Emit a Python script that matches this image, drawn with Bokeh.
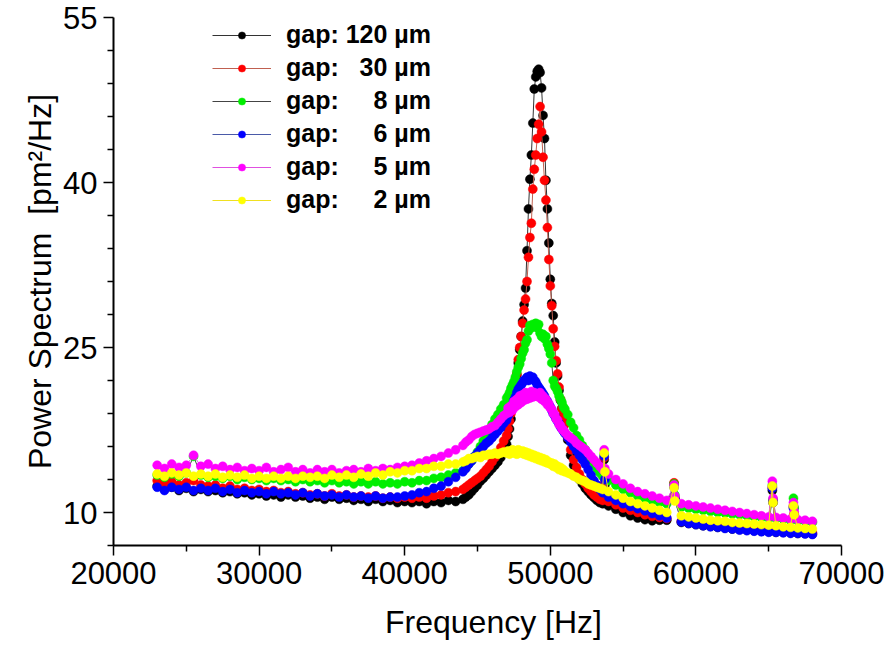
from bokeh.plotting import figure
from bokeh.models import FixedTicker, Legend, LegendItem, Range1d
from bokeh.embed import file_html
from bokeh.resources import INLINE

# ---------------- data ----------------
freq = [
    23000, 23500, 24000, 24500, 25000, 25500, 26000, 26500, 27000, 27500,
    28000, 28500, 29000, 29500, 30000, 30500, 31000, 31500, 32000, 32500,
    33000, 33500, 34000, 34500, 35000, 35500, 36000, 36500, 37000, 37500,
    38000, 38500, 39000, 39500, 40000, 40500, 41000, 41500, 42000, 42500,
    43000, 43500,
    44000, 44200, 44400, 44600, 44800, 45000, 45200, 45400, 45600, 45800,
    46000, 46200, 46400, 46600, 46800,
    47000, 47100, 47200, 47300, 47400, 47500, 47600, 47700, 47800, 47900,
    48000, 48100, 48200, 48300, 48400, 48500, 48600, 48700, 48800, 48900,
    49000, 49100, 49200, 49300, 49400, 49500, 49600, 49700, 49800, 49900,
    50000, 50100, 50200, 50300, 50400, 50500, 50600, 50700, 50800, 50900,
    51000,
    51200, 51400, 51600, 51800, 52000, 52200, 52400, 52600, 52800, 53000,
    53200, 53400, 53600,
    53700, 53750,
    54000, 54500, 55000, 55500, 56000, 56500, 57000, 57500, 58000, 58500,
    58550, 59000, 59500, 60000, 60500, 61000, 61500, 62000, 62500, 63000,
    63500, 64000, 64500, 65000, 65250, 65300, 65500, 66000, 66500, 66700,
    66750, 67000, 67500, 68000,
]

gap_120 = [
    12.4, 12.1, 12.3, 12.0, 12.2, 11.9, 12.1, 11.9, 12.0, 11.8,
    11.9, 11.7, 11.8, 11.6, 11.7, 11.5, 11.6, 11.4, 11.6, 11.4,
    11.5, 11.3, 11.4, 11.2, 11.4, 11.2, 11.3, 11.1, 11.2, 11.0,
    11.2, 11.0, 11.1, 10.9, 11.0, 10.9, 11.0, 10.8, 11.0, 10.9,
    11.1, 11.0,
    11.2, 11.4, 11.6, 11.9, 12.2, 12.5, 12.85, 13.1, 13.4, 13.7,
    14.0, 14.3, 14.6, 15.0, 15.5,
    16.2, 16.9, 17.6, 18.5, 19.5, 20.4, 21.4, 22.5, 23.6, 24.8,
    26.0, 27.4, 28.9, 30.4, 33.8, 37.6, 40.3, 42.5, 45.4, 48.5,
    49.6, 50.1, 50.3, 50.0, 48.6, 46.1, 44.0, 40.2, 37.6, 34.5,
    31.2, 29.0, 27.9, 25.5, 23.6, 22.4, 21.1, 20.2, 19.5, 18.8,
    18.1,
    16.6, 15.2, 14.3, 13.6, 13.0, 12.6, 12.2, 11.9, 11.6, 11.35,
    11.1, 10.9, 10.8,
    14.8, 12.5,
    10.6, 10.3, 10.0, 9.7, 9.5, 9.35, 9.25, 9.3, 9.3, 12.6,
    11.3, 9.1, 9.0, 8.9, 8.8, 8.75, 8.65, 8.6, 8.5, 8.45,
    8.4, 8.35, 8.3, 8.25, 12.0, 10.9, 8.2, 8.2, 8.15, 10.5,
    9.8, 8.1, 8.1, 8.05,
]

gap_30 = [
    12.9, 12.6, 12.8, 12.5, 12.7, 12.9, 12.5, 12.4, 12.5, 12.2,
    12.4, 12.1, 12.2, 12.0, 12.1, 11.9, 12.0, 11.8, 11.9, 11.7,
    11.8, 11.6, 11.7, 11.5, 11.7, 11.5, 11.6, 11.4, 11.5, 11.4,
    11.5, 11.3, 11.4, 11.3, 11.4, 11.3, 11.4, 11.3, 11.5, 11.6,
    11.8, 11.9,
    12.1, 12.3, 12.5, 12.7, 12.9, 13.1, 13.3, 13.6, 13.9, 14.2,
    14.6, 15.0, 15.4, 15.9, 16.5,
    17.0, 17.6, 18.3, 19.0, 19.8, 20.7, 21.6, 22.6, 23.9, 25.0,
    26.0, 27.2, 28.4, 29.4, 31.0, 33.2, 35.0, 36.3, 39.4, 41.2,
    42.5, 44.0, 45.3, 46.9, 44.6, 42.3, 40.2, 38.4, 35.9, 33.0,
    30.6, 28.8, 26.7, 25.1, 23.8, 22.6, 21.4, 20.3, 19.4, 18.7,
    18.0,
    16.8, 15.7, 14.8, 14.1, 13.5, 13.0, 12.6, 12.2, 11.9, 11.6,
    11.4, 11.2, 11.1,
    15.0, 12.8,
    11.0, 10.7, 10.4, 10.2, 10.0, 9.8, 9.65, 9.55, 9.45, 12.7,
    11.4, 9.2, 9.1, 9.0, 8.9, 8.85, 8.75, 8.7, 8.6, 8.55,
    8.5, 8.45, 8.4, 8.35, 12.3, 11.1, 8.3, 8.3, 8.25, 10.6,
    9.9, 8.2, 8.2, 8.15,
]

gap_8 = [
    13.4, 13.2, 13.5, 13.3, 13.6, 15.1, 13.4, 13.2, 13.3, 13.1,
    13.3, 13.0, 13.2, 13.0, 13.1, 12.9, 13.1, 12.9, 13.0, 12.8,
    13.0, 12.8, 12.9, 12.7, 12.9, 12.7, 12.8, 12.6, 12.8, 12.6,
    12.8, 12.6, 12.7, 12.6, 12.8, 12.7, 12.9, 12.9, 13.1, 13.2,
    13.4, 13.6,
    13.8, 14.1, 14.4, 14.7, 15.1, 15.5, 16.0, 16.5, 17.0, 17.5,
    18.0, 18.5, 18.9, 19.4, 19.8,
    20.4, 20.6, 20.9, 21.3, 21.6, 21.9, 22.3, 22.8, 23.2, 23.5,
    24.0, 24.5, 24.8, 25.4, 25.7, 26.5, 27.0, 26.8, 27.1, 26.9,
    27.2, 26.8, 27.1, 26.3, 26.0, 26.2, 25.8, 26.0, 25.3, 24.9,
    24.4, 23.6, 22.0, 21.5, 21.3, 21.0, 20.6, 20.3, 20.0, 19.6,
    19.4,
    18.9, 18.2, 17.7, 17.0, 16.6, 16.1, 15.7, 15.2, 14.8, 14.4,
    14.0, 13.6, 13.3,
    15.3, 13.5,
    12.9, 12.5, 12.1, 11.8, 11.5, 11.3, 11.1, 10.9, 10.8, 12.6,
    11.6, 10.5, 10.4, 10.3, 10.2, 10.1, 10.0, 9.95, 9.85, 9.8,
    9.7, 9.6, 9.55, 9.5, 12.5, 11.2, 9.45, 9.4, 9.3, 11.3,
    10.4, 9.25, 9.2, 9.1,
]

gap_6 = [
    12.3, 12.0, 12.3, 12.1, 12.3, 12.0, 12.2, 12.0, 12.2, 11.9,
    12.1, 11.8, 12.0, 11.8, 11.9, 11.7, 11.9, 11.7, 11.8, 11.6,
    11.8, 11.5, 11.7, 11.5, 11.6, 11.4, 11.6, 11.4, 11.5, 11.3,
    11.5, 11.3, 11.4, 11.4, 11.5, 11.6, 11.8, 11.9, 12.2, 12.4,
    12.8, 13.2,
    13.7, 14.0, 14.4, 14.7, 15.1, 15.4, 15.7, 16.0, 16.3, 16.5,
    16.8, 17.1, 17.4, 17.7, 18.1,
    18.4, 18.8, 19.1, 19.5, 19.8, 20.2, 20.5, 20.9, 21.2, 21.4,
    21.6, 21.8, 22.0, 22.1, 22.3, 22.0, 22.4, 22.2, 22.3, 22.0,
    21.9, 21.6, 21.4, 21.2, 21.0, 20.8, 20.6, 20.3, 20.1, 19.8,
    19.6, 19.3, 19.0, 18.8, 18.5, 18.3, 18.1, 17.8, 17.6, 17.4,
    17.2,
    16.8, 16.4, 16.0, 15.6, 15.2, 14.8, 14.4, 13.9, 13.4, 12.9,
    12.5, 12.1, 11.8,
    15.1, 13.0,
    11.4, 11.1, 10.8, 10.55, 10.35, 10.15, 9.9, 9.7, 9.5, 12.3,
    11.2, 9.15, 9.0, 8.9, 8.8, 8.7, 8.65, 8.55, 8.5, 8.4,
    8.35, 8.3, 8.25, 8.2, 12.2, 11.0, 8.2, 8.15, 8.1, 10.4,
    9.6, 8.1, 8.05, 8.0,
]

gap_5 = [
    14.3, 14.0, 14.4, 14.1, 14.3, 15.2, 14.2, 14.4, 14.0, 14.2,
    13.9, 14.1, 13.8, 14.0, 13.8, 14.1, 13.7, 13.9, 14.1, 13.7,
    13.9, 13.6, 13.9, 13.7, 13.9, 13.6, 13.8, 13.9, 13.7, 14.0,
    13.8, 14.0, 13.9, 14.1, 14.2, 14.3, 14.5, 14.7, 14.9, 15.1,
    15.4, 15.7,
    16.1, 16.4, 16.6, 16.9, 17.1, 17.2, 17.3, 17.4, 17.5, 17.6,
    17.8, 17.9, 18.2, 18.5, 18.8,
    19.0, 19.5, 19.1, 19.7, 19.3, 20.1, 19.6, 20.3, 19.8, 20.6,
    20.0, 20.7, 20.2, 20.9, 20.3, 20.8, 20.4, 21.0, 20.5, 20.9,
    20.6, 20.8, 20.5, 20.9, 20.3, 20.6, 20.1, 20.3, 19.8, 19.9,
    19.5, 19.4, 19.0, 18.9, 18.5, 18.4, 18.0, 17.9, 17.6, 17.5,
    17.3,
    17.0, 16.8, 16.6, 16.3, 16.1, 15.9, 15.7, 15.4, 15.1, 14.8,
    14.5, 14.2, 13.9,
    15.7, 14.0,
    13.5, 13.0, 12.6, 12.2, 11.9, 11.7, 11.5, 11.3, 11.1, 12.5,
    11.5, 10.8, 10.7, 10.6, 10.5, 10.4, 10.3, 10.2, 10.1, 10.0,
    9.9, 9.8, 9.7, 9.6, 12.85, 11.3, 9.55, 9.5, 9.4, 10.9,
    10.1, 9.35, 9.3, 9.2,
]

gap_2 = [
    13.5, 13.3, 13.6, 13.4, 13.6, 13.3, 13.5, 13.3, 13.5, 13.2,
    13.4, 13.2, 13.4, 13.1, 13.3, 13.1, 13.3, 13.1, 13.3, 13.1,
    13.3, 13.2, 13.3, 13.1, 13.4, 13.2, 13.4, 13.2, 13.5, 13.3,
    13.6, 13.4, 13.7, 13.6, 13.8, 13.8, 14.0, 14.0, 14.2, 14.2,
    14.4, 14.4,
    14.6, 14.7, 14.9, 14.9, 15.0, 15.1, 15.0, 15.2, 15.2, 15.3,
    15.3, 15.4, 15.3, 15.4, 15.5,
    15.4, 15.6, 15.3, 15.5, 15.7, 15.4, 15.6, 15.3, 15.7, 15.5,
    15.4, 15.6, 15.3, 15.5, 15.2, 15.4, 15.1, 15.3, 15.0, 15.2,
    14.9, 15.1, 14.8, 15.0, 14.7, 14.9, 14.6, 14.8, 14.5, 14.6,
    14.4, 14.5, 14.2, 14.4, 14.1, 14.2, 13.9, 14.1, 13.8, 13.9,
    13.7,
    13.6, 13.5, 13.3, 13.2, 13.0, 12.9, 12.8, 12.6, 12.5, 12.4,
    12.3, 12.2, 12.1,
    15.4, 13.7,
    11.9, 11.6, 11.3, 11.0, 10.8, 10.6, 10.4, 10.2, 10.0, 12.25,
    11.05, 9.7, 9.6, 9.5, 9.4, 9.3, 9.25, 9.2, 9.1, 9.05,
    9.0, 8.95, 8.9, 8.85, 12.4, 10.9, 8.8, 8.7, 8.65, 10.6,
    9.8, 8.6, 8.55, 8.5,
]

series_labels = [
    "gap: 120 µm",
    "gap: \u00a0\u00a030 µm",
    "gap: \u00a0\u00a0\u00a0\u00a08 µm",
    "gap: \u00a0\u00a0\u00a0\u00a06 µm",
    "gap: \u00a0\u00a0\u00a0\u00a05 µm",
    "gap: \u00a0\u00a0\u00a0\u00a02 µm",
]
series_values = [gap_120, gap_30, gap_8, gap_6, gap_5, gap_2]
marker_colors = ["#000000", "#ff0000", "#00ee00", "#0000ff", "#ff00ff", "#ffff00"]
line_colors = ["#333333", "#c06050", "#444444", "#4a5aa8", "#e050e0", "#f0e020"]

x_ticks = [20000, 30000, 40000, 50000, 60000, 70000]
x_minor = [25000, 35000, 45000, 55000, 65000]
y_ticks = [10, 25, 40, 55]
y_minor = [7, 13, 16, 19, 22, 28, 31, 34, 37, 43, 46, 49, 52]

for s in series_values:
    assert len(s) == len(freq), len(s)

FONT = "Liberation Sans"

p = figure(width=892, height=646, output_backend="svg", toolbar_location=None,
           x_range=Range1d(20000, 70000), y_range=Range1d(7, 55),
           min_border_left=113, min_border_right=51, min_border_top=17,
           min_border_bottom=101)
p.outline_line_color = None
p.xgrid.visible = False
p.ygrid.visible = False
p.background_fill_color = "white"
p.border_fill_color = "white"

items = []
for lab, vals, mc, lc in zip(series_labels, series_values, marker_colors, line_colors):
    lr = p.line(freq, vals, line_color=lc, line_width=1)
    sr = p.scatter(freq, vals, size=9, fill_color=mc, line_color=mc, line_width=0.5)
    items.append(LegendItem(label=lab, renderers=[lr, sr]))

for ax in (p.xaxis[0], p.yaxis[0]):
    ax.axis_line_width = 2
    ax.axis_line_color = "black"
    ax.major_tick_line_width = 1.5
    ax.minor_tick_line_width = 1.5
    ax.major_tick_in = 0
    ax.major_tick_out = 10
    ax.minor_tick_in = 0
    ax.minor_tick_out = 6
    ax.major_label_text_font = FONT
    ax.major_label_text_font_size = "31px"
    ax.major_label_text_color = "black"
    ax.axis_label_text_font = FONT
    ax.axis_label_text_font_size = "32px"
    ax.axis_label_text_font_style = "normal"
    ax.axis_label_text_color = "black"

p.xaxis.ticker = FixedTicker(ticks=x_ticks, minor_ticks=x_minor)
p.yaxis.ticker = FixedTicker(ticks=y_ticks, minor_ticks=y_minor)
p.xaxis.major_label_standoff = 6
p.yaxis.major_label_standoff = 6
p.xaxis.axis_label = "\u2003Frequency [Hz]"
p.yaxis.axis_label = "Power Spectrum\u00a0 [pm²/Hz]"
p.xaxis.axis_label_standoff = 17
p.yaxis.axis_label_standoff = 2

legend = Legend(items=items, location=(99, 331), glyph_width=59, glyph_height=18,
                label_height=26, label_standoff=15, spacing=4, padding=0, margin=0,
                border_line_color=None, background_fill_alpha=0,
                label_text_font=FONT, label_text_font_style="bold",
                label_text_font_size="25px", label_text_color="black")
p.add_layout(legend)

open("out.html", "w").write(file_html(p, INLINE))
